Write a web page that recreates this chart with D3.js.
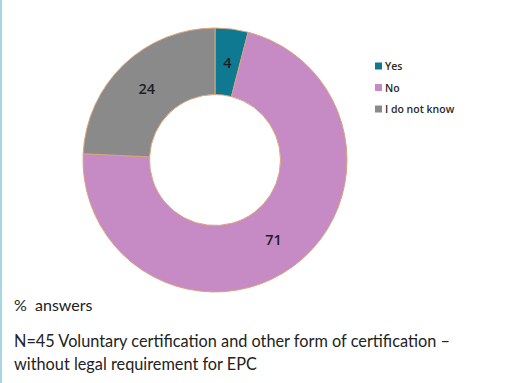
<!DOCTYPE html>
<html>
<head>
<meta charset="utf-8">
<script src="https://cdn.jsdelivr.net/npm/d3@7"></script>
<style>
  html, body { margin: 0; padding: 0; background: #ffffff; }
  svg { display: block; }
</style>
</head>
<body>
<svg id="chart" width="525" height="383"></svg>
<script>
// Survey answers, in percent
const categories = ["Yes", "No", "I do not know"];
const values = [4, 71, 24];
const colors = ["#0e7990", "#c68ac4", "#8a8a8a"];
const captionLines = [
  "N=45 Voluntary certification and other form of certification \u2013",
  "without legal requirement for EPC"
];

const svg = d3.select("#chart");

// thin accent rule along the left edge of the page
svg.append("rect")
  .attr("x", 0).attr("y", 0)
  .attr("width", 2).attr("height", 383)
  .attr("fill", "#a6d6df");

const cx = 215, cy = 160, outerR = 132, innerR = 65.5;

const pie = d3.pie().value(d => d.value).sort(null);
const arcs = pie(categories.map((c, i) => ({ name: c, value: values[i] })));
const arc = d3.arc().innerRadius(innerR).outerRadius(outerR);
const midR = innerR + (outerR - innerR) * 0.5;
const labelArc = d3.arc().innerRadius(midR).outerRadius(midR);

const g = svg.append("g").attr("transform", `translate(${cx},${cy})`);

g.selectAll("path.slice")
  .data(arcs)
  .join("path")
  .attr("class", "slice")
  .attr("d", arc)
  .attr("fill", (d, i) => colors[i])
  .attr("stroke", "#d9a67c")
  .attr("stroke-width", 1);

// value labels on the ring
g.selectAll("text.val")
  .data(arcs)
  .join("text")
  .attr("class", "val")
  .attr("transform", d => {
    const [x, y] = labelArc.centroid(d);
    return `translate(${x},${y})`;
  })
  .attr("text-anchor", "middle")
  .attr("dominant-baseline", "central")
  .attr("font-family", "'Open Sans', 'DejaVu Sans', sans-serif")
  .attr("font-size", 14.5)
  .attr("font-weight", 600)
  .attr("fill", "#1d1d2b")
  .text(d => d.data.value);

// legend
const legend = svg.append("g").attr("transform", "translate(375,66)");
const rowH = 21.5;
const item = legend.selectAll("g")
  .data(categories)
  .join("g")
  .attr("transform", (d, i) => `translate(0,${i * rowH})`);
item.append("rect")
  .attr("x", 0).attr("y", -3.5)
  .attr("width", 7).attr("height", 7)
  .attr("fill", (d, i) => colors[i]);
item.append("text")
  .attr("x", 10).attr("y", 0)
  .attr("dominant-baseline", "central")
  .attr("font-family", "'Open Sans', 'DejaVu Sans', sans-serif")
  .attr("font-size", 10.5)
  .attr("font-weight", 600)
  .attr("fill", "#2a2a2a")
  .text(d => d);

// footnotes
const noteFont = "Lato, 'Open Sans', sans-serif";
svg.append("text")
  .attr("x", 14).attr("y", 311)
  .attr("font-family", noteFont)
  .attr("font-size", 16)
  .attr("fill", "#222")
  .attr("xml:space", "preserve")
  .text("%  answers");

svg.selectAll("text.cap")
  .data(captionLines)
  .join("text")
  .attr("class", "cap")
  .attr("x", 14)
  .attr("y", (d, i) => 347 + i * 23)
  .attr("font-family", noteFont)
  .attr("font-size", 16.3)
  .attr("fill", "#222")
  .text(d => d);
</script>
</body>
</html>
